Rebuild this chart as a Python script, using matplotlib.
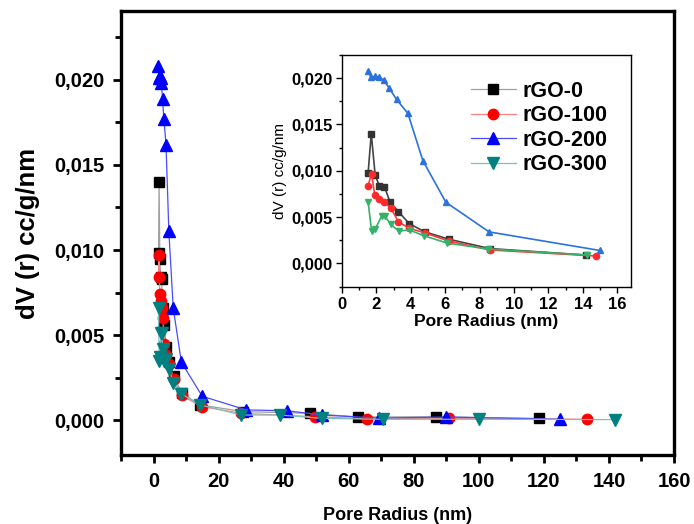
import matplotlib
matplotlib.use('Agg')
import matplotlib.pyplot as plt
from matplotlib.ticker import MultipleLocator, FuncFormatter

plt.rcParams['font.family'] = ['Liberation Sans', 'DejaVu Sans']

# pore radius (nm) and dV(r) (cc/g/nm)
r_go0 = [1.52, 1.70, 1.93, 2.17, 2.46, 2.80, 3.28, 3.90, 4.82, 6.23, 8.60, 14.2, 27.5, 48.0, 62.9, 86.8, 118.4]
v_go0 = [0.0098, 0.0140, 0.0095, 0.0084, 0.0083, 0.0066, 0.0056, 0.0043, 0.0034, 0.0026, 0.0016, 0.0009,
         0.0005, 0.0004, 0.00018, 0.0002, 0.0001]

r_go100 = [1.52, 1.72, 1.90, 2.17, 2.46, 2.83, 3.28, 3.90, 4.80, 6.23, 8.60, 14.75, 27.0, 49.5, 65.6, 90.7, 133.4]
v_go100 = [0.0084, 0.0097, 0.0074, 0.0070, 0.0066, 0.0060, 0.0045, 0.0038, 0.0033, 0.0024, 0.00145, 0.0008,
           0.0004, 0.0002, 0.00008, 0.0001, 0.00005]

r_go200 = [1.50, 1.68, 1.93, 2.17, 2.42, 2.75, 3.17, 3.83, 4.70, 6.04, 8.55, 14.97, 28.5, 41.0, 51.8, 69.2, 90.0, 125.0]
v_go200 = [0.0208, 0.0201, 0.0202, 0.0201, 0.0198, 0.0189, 0.0177, 0.0162, 0.0111, 0.0066, 0.0034, 0.0014,
           0.0006, 0.00055, 0.0003, 0.00012, 0.00018, 0.00005]

r_go300 = [1.52, 1.72, 1.93, 2.30, 2.50, 2.83, 3.30, 3.93, 4.74, 6.10, 8.50, 14.25, 27.0, 39.0, 51.9, 70.4, 99.9, 141.8]
v_go300 = [0.0066, 0.0035, 0.0037, 0.0051, 0.0051, 0.0042, 0.0035, 0.0036, 0.0030, 0.0022, 0.00155, 0.0009,
           0.0003, 0.0003, 0.0001, 0.00005, 0.00005, 0.00003]

labels = ['rGO-0', 'rGO-100', 'rGO-200', 'rGO-300']
series = [(r_go0, v_go0), (r_go100, v_go100), (r_go200, v_go200), (r_go300, v_go300)]

main_styles = [
    dict(marker='s', color='#000000', line='#a0a0a0', ms=6.5),
    dict(marker='o', color='#ff0000', line='#ff8080', ms=7.5),
    dict(marker='^', color='#0000ff', line='#4a4aff', ms=8),
    dict(marker='v', color='#008080', line='#7cc0c0', ms=8),
]
inset_styles = [
    dict(marker='s', color='#333333', line='#444444'),
    dict(marker='o', color='#ff2a2a', line='#ff3a3a'),
    dict(marker='^', color='#2b72dd', line='#2b72dd'),
    dict(marker='v', color='#35b26a', line='#35b26a'),
]

comma = FuncFormatter(lambda v, p: ('%.3f' % v).replace('.', ','))

fig = plt.figure(figsize=(6.94, 5.24), dpi=100)
ax = fig.add_axes([0.1744, 0.1317, 0.7968, 0.8473])

handles = []
for (x, y), st, lab in zip(series, main_styles, labels):
    h, = ax.plot(x, y, color=st['line'], lw=0.9, marker=st['marker'], ms=st['ms'],
                 mfc=st['color'], mec=st['color'], label=lab)
    handles.append(h)

ax.set_xlim(-10, 160)
ax.set_ylim(-0.00205, 0.02405)
ax.xaxis.set_major_locator(MultipleLocator(20))
ax.xaxis.set_minor_locator(MultipleLocator(10))
ax.yaxis.set_major_locator(MultipleLocator(0.005))
ax.yaxis.set_minor_locator(MultipleLocator(0.0025))
ax.yaxis.set_major_formatter(comma)
for s in ax.spines.values():
    s.set_linewidth(2.4)
ax.tick_params(which='major', direction='out', length=6, width=2, labelsize=14.5, pad=6)
ax.tick_params(which='minor', direction='out', length=4, width=2)
for t in ax.get_xticklabels() + ax.get_yticklabels():
    t.set_fontweight('bold')
ax.set_xlabel('Pore Radius (nm)', fontsize=13, fontweight='bold', labelpad=12)
ax.set_ylabel('dV (r) cc/g/nm', fontsize=18.5, fontweight='bold', labelpad=10)

# inset
ins = fig.add_axes([0.4928, 0.4523, 0.4164, 0.4427])
for (x, y), st in zip(series, inset_styles):
    xs = [a for a in x if a < 16]
    ys = y[:len(xs)]
    ins.plot(xs, ys, color=st['line'], lw=1.2, marker=st['marker'], ms=4.5,
             mfc=st['color'], mec=st['color'])
ins.set_xlim(0, 16.8)
ins.set_ylim(-0.00255, 0.0225)
ins.xaxis.set_major_locator(MultipleLocator(2))
ins.xaxis.set_minor_locator(MultipleLocator(1))
ins.yaxis.set_major_locator(MultipleLocator(0.005))
ins.yaxis.set_minor_locator(MultipleLocator(0.0025))
ins.yaxis.set_major_formatter(comma)
for s in ins.spines.values():
    s.set_linewidth(1.0)
ins.tick_params(which='major', direction='out', length=4, width=1, labelsize=12, pad=3)
ins.tick_params(which='minor', direction='out', length=2.5, width=1)
for t in ins.get_xticklabels() + ins.get_yticklabels():
    t.set_fontweight('bold')
ins.set_xlabel('Pore Radius (nm)', fontsize=12.5, fontweight='bold', labelpad=2)
ins.set_ylabel('dV (r) cc/g/nm', fontsize=11, labelpad=3)

leg = ins.legend(handles, labels, loc='upper left', bbox_to_anchor=(0.415, 0.925), frameon=False,
                 prop=dict(size=15.5, weight='bold'), handlelength=2.1, handletextpad=0.3,
                 labelspacing=0.16, borderaxespad=0)

fig.savefig('out.png', dpi=100)
